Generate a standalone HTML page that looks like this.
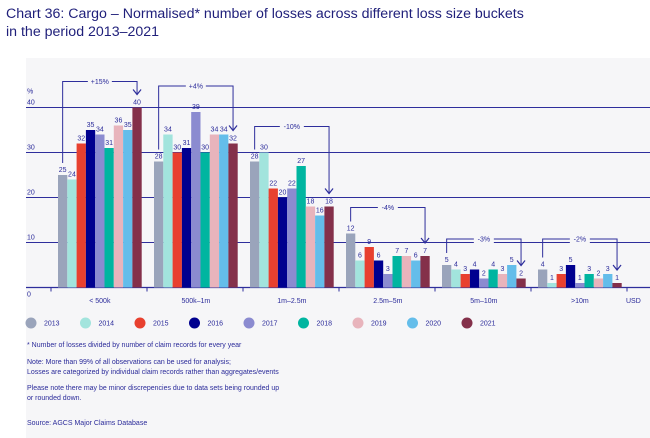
<!DOCTYPE html>
<html><head><meta charset="utf-8"><style>
body{margin:0;background:#fff;font-family:"Liberation Sans",sans-serif;}
svg{display:block}
</style></head><body>
<svg width="650" height="438" viewBox="0 0 650 438" xmlns="http://www.w3.org/2000/svg">
<rect x="26" y="58" width="624" height="380" fill="#f6f6f8"/>
<text x="6" y="18" font-size="14.2" fill="#1f1f7a">Chart 36: Cargo – Normalised* number of losses across different loss size buckets</text>
<text x="6" y="36" font-size="14.2" fill="#1f1f7a">in the period 2013–2021</text>
<g id="grid"></g><g id="bars"></g><g id="anno"></g><g id="legend"></g>
<g font-size="7" fill="#2b2b9a">
<text x="27" y="347">* Number of losses divided by number of claim records for every year</text>
<text x="27" y="364">Note: More than 99% of all observations can be used for analysis;</text>
<text x="27" y="374">Losses are categorized by individual claim records rather than aggregates/events</text>
<text x="27" y="390">Please note there may be minor discrepencies due to data sets being rounded up</text>
<text x="27" y="400">or rounded down.</text>
<text x="27" y="425">Source: AGCS Major Claims Database</text>
</g>
</svg>
<script>
const categories=["< 500k","500k–1m","1m–2.5m","2.5m–5m","5m–10m",">10m"];
const years=["2013","2014","2015","2016","2017","2018","2019","2020","2021"];
const colors=["#9aa4bb","#a2e4dd","#e8402f","#00008f","#8b8bd0","#00b5a0","#e8b4bc","#64bdea","#84304a"];
const values=[
[25,24,32,35,34,31,36,35,40],
[28,34,30,31,39,30,34,34,32],
[28,30,22,20,22,27,18,16,18],
[12,6,9,6,3,7,7,6,7],
[5,4,3,4,2,4,3,5,2],
[4,1,3,5,1,3,2,3,1]];
const changes=["+15%","+4%","-10%","-4%","-3%","-2%"];
const yTicks=[0,10,20,30,40];
const NS="http://www.w3.org/2000/svg";
const y0=287.5,per=4.5,gx0=58,gw=96,bw=9.3;
const Y=v=>y0-v*per;
const X=(g,i)=>gx0+g*gw+i*bw;
function mk(p,t,a){const e=document.createElementNS(NS,t);for(const k in a)e.setAttribute(k,a[k]);document.getElementById(p).appendChild(e);return e;}
yTicks.forEach(t=>{
 if(t>0){const l=mk('grid','line',{x1:26,x2:650,y1:Y(t),y2:Y(t),stroke:'#2e2e9c','stroke-width':1});
 
 }
 const tx=mk('grid','text',{x:27,y:t==0?Y(t)+9:Y(t)-3,'font-size':7,fill:'#2b2b9a'});tx.textContent=t;
 
 
});
const pc=mk('grid','text',{x:27,y:Y(40)-14,'font-size':7,fill:'#2b2b9a'});pc.textContent='%';


const ax=mk('grid','line',{x1:26,x2:650,y1:y0,y2:y0,stroke:'#2e2e9c','stroke-width':1.2});


for(let g=0;g<=6;g++){const tk=mk('grid','line',{x1:gx0-7+g*gw,x2:gx0-7+g*gw,y1:y0,y2:y0+4,stroke:'#2e2e9c'});
 
 }
const usd=mk('grid','text',{x:626,y:303,'font-size':7,fill:'#2b2b9a'});usd.textContent='USD';


categories.forEach((c,g)=>{
 const t=mk('grid','text',{x:X(g,4.5),y:303,'font-size':7,fill:'#2b2b9a','text-anchor':'middle'});t.textContent=c;
 
 
 values[g].forEach((v,i)=>{
  const r=mk('bars','rect',{x:X(g,i),y:Y(v),width:bw,height:v*per,fill:colors[i]});
  
  
  const l=mk('bars','text',{x:X(g,i)+bw/2,y:Y(v)-3,'font-size':7,fill:'#2b2b9a','text-anchor':'middle'});l.textContent=v;
  
  
 });
 const mx=Math.max(...values[g]);
 const top=Y(mx)-26, xa=X(g,0)+bw/2, xb=X(g,8)+bw/2;
 const p=mk('anno','path',{d:`M${xa} ${Y(values[g][0])-12}V${top}H${xb}V${Y(values[g][8])-13}`,fill:'none',stroke:'#2e2e9c','stroke-width':1});
 
 
 const ah=Y(values[g][8])-13;
 const a=mk('anno','path',{d:`M${xb-4} ${ah-5}L${xb} ${ah}L${xb+4} ${ah-5}`,fill:'none',stroke:'#2e2e9c','stroke-width':1.2});
 
 
 const bgw=changes[g].length*4+8,cx=(xa+xb)/2;
 mk('anno','rect',{x:cx-bgw/2,y:top-4,width:bgw,height:8,fill:'#f6f6f8'});
 const ct=mk('anno','text',{x:cx,y:top+2.5,'font-size':7,fill:'#2b2b9a','text-anchor':'middle'});ct.textContent=changes[g];
 
 
});
years.forEach((yr,i)=>{
 const cx=31+i*54.5;
 const c=mk('legend','circle',{cx:cx,cy:323,r:5.5,fill:colors[i]});
 
 
 const t=mk('legend','text',{x:cx+13,y:325.5,'font-size':7,fill:'#2b2b9a'});t.textContent=yr;
 
 
});
</script>
</body></html>
